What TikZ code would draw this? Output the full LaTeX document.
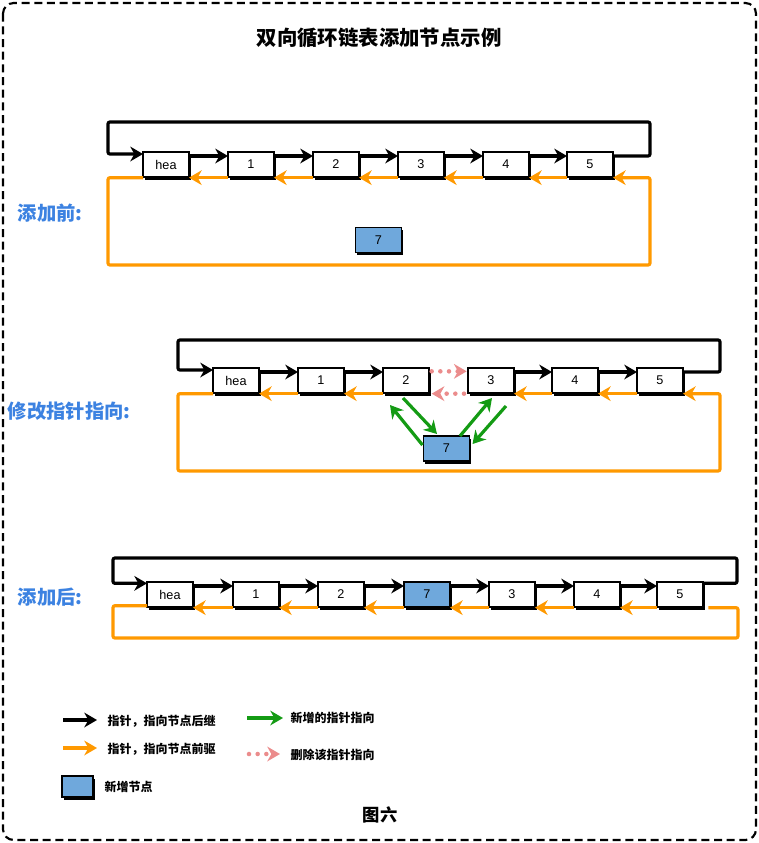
\documentclass[tikz,border=0pt]{standalone}
\usepackage{fontspec}
\setmainfont{Liberation Sans}
\newfontfamily\cjk{Noto Sans CJK SC}
\usetikzlibrary{arrows.meta,shadows,calc}
\definecolor{myorange}{RGB}{255,153,0}
\definecolor{mygreen}{RGB}{20,155,20}
\definecolor{mypink}{RGB}{235,140,140}
\definecolor{myblue}{RGB}{111,168,220}
\definecolor{lblblue}{RGB}{60,130,225}
\begin{document}
\begin{tikzpicture}[x=0.75pt,y=-0.75pt,
  lnode/.style={draw=black, line width=1.1pt, fill=white, minimum width=34.5pt,
    minimum height=18.75pt, inner sep=0pt, outer sep=0pt, font=\fontsize{9.5}{11}\selectfont,
    drop shadow={shadow xshift=1.4pt,shadow yshift=-1.9pt,fill=black,opacity=1}},
  newnode/.style={lnode, fill=myblue},
  tip/.style={-{Stealth[length=9.5pt,width=11pt,inset=3pt]}},
  blk/.style={draw=black, line width=2.4pt, tip, rounded corners=1.5pt},
  org/.style={draw=myorange, line width=2.4pt, tip, rounded corners=1.5pt},
  orgline/.style={draw=myorange, line width=2.4pt, rounded corners=1.5pt},
  grn/.style={draw=mygreen, line width=2.4pt, tip},
  del/.style={draw=mypink, line width=3.4pt, dash pattern=on 0pt off 6.5pt, line cap=round, tip},
  side/.style={anchor=west, text=lblblue, font=\cjk\bfseries\fontsize{14.5}{16}\selectfont},
  legtxt/.style={anchor=west, font=\cjk\bfseries\fontsize{9}{10}\selectfont},
]
\useasboundingbox (0,0) rectangle (759,843);
\draw[line width=1.6pt, dash pattern=on 6pt off 3.5pt, rounded corners=8pt] (3,3) rectangle (756,840);

\node[font=\cjk\bfseries\fontsize{15.3}{17}\selectfont] (title) at (379,38) {双向循环链表添加节点示例};

% ---------- Section 1 ----------
\node[side] (s1) at (13,213) {添加前:};
\node[lnode] (a0) at (166,164.5) {hea};
\node[lnode] (a1) at (251,164.5) {1};
\node[lnode] (a2) at (336,164.5) {2};
\node[lnode] (a3) at (421,164.5) {3};
\node[lnode] (a4) at (506,164.5) {4};
\node[lnode] (a5) at (590,164.5) {5};
\node[newnode] (a7) at (378.5,240) {7};
\coordinate (t1l) at (108,122);
\coordinate (t1r) at (650,122);
\coordinate (o1l) at (108,265);
\coordinate (o1r) at (650,265);
\foreach \p/\q in {a0/a1,a1/a2,a2/a3,a3/a4,a4/a5}{
  \draw[blk] ([yshift=-3pt]\p.north east) -- ([yshift=-3pt]\q.north west);
  \draw[org] ([yshift=-0.5pt]\q.south west) -- ([yshift=-0.5pt]\p.south east);
}
\draw[blk] ([yshift=-3pt]a5.north east) -| (t1r) -- (t1l) |- ([yshift=-1.5pt]a0.north west);
\draw[org] ([yshift=-0.5pt]a0.south west) -| (o1l) -- (o1r) |- ([yshift=-0.5pt]a5.south east);

% ---------- Section 2 ----------
\node[side] (s2) at (3,411) {修改指针指向:};
\node[lnode] (b0) at (236,380.5) {hea};
\node[lnode] (b1) at (321,380.5) {1};
\node[lnode] (b2) at (406,380.5) {2};
\node[lnode] (b3) at (491,380.5) {3};
\node[lnode] (b4) at (575,380.5) {4};
\node[lnode] (b5) at (660,380.5) {5};
\node[newnode] (b7) at (446.5,448.5) {7};
\coordinate (t2l) at (178,340);
\coordinate (t2r) at (720,340);
\coordinate (o2l) at (178,471);
\coordinate (o2r) at (720,471);
\foreach \p/\q in {b0/b1,b1/b2,b3/b4,b4/b5}{
  \draw[blk] ([yshift=-3pt]\p.north east) -- ([yshift=-3pt]\q.north west);
  \draw[org] ([yshift=-0.5pt]\q.south west) -- ([yshift=-0.5pt]\p.south east);
}
\draw[blk] ([yshift=-3pt]b5.north east) -| (t2r) -- (t2l) |- ([yshift=-1.5pt]b0.north west);
\draw[org] ([yshift=-0.5pt]b0.south west) -| (o2l) -- (o2r) |- ([yshift=-0.5pt]b5.south east);
\draw[del] ([xshift=2pt,yshift=-2.5pt]b2.north east) -- ([xshift=-1pt,yshift=-2.5pt]b3.north west);
\draw[del] ([xshift=-3pt,yshift=-0.5pt]b3.south west) -- ([xshift=2pt,yshift=-0.5pt]b2.south east);
\draw[grn] ($(b2.south)+(-3,5)$) -- ($(b7.north)+(-9.5,-2)$);
\draw[grn] ($(b7.north west)+(-1,9)$) -- ($(b2.south west)+(7,12)$);
\draw[grn] ($(b7.north)+(13.5,0)$) -- ($(b3.south)+(1,5)$);
\draw[grn] ($(b3.south east)+(-8,13)$) -- ($(b7.north east)+(3,8)$);

% ---------- Section 3 ----------
\node[side] (s3) at (13,597) {添加后:};
\node[lnode] (c0) at (170,594.5) {hea};
\node[lnode] (c1) at (256,594.5) {1};
\node[lnode] (c2) at (341,594.5) {2};
\node[newnode] (c7) at (427,594.5) {7};
\node[lnode] (c3) at (512,594.5) {3};
\node[lnode] (c4) at (597,594.5) {4};
\node[lnode] (c5) at (680,594.5) {5};
\coordinate (t3l) at (113,558);
\coordinate (t3r) at (737,558);
\coordinate (o3l) at (113,638);
\coordinate (o3r) at (738,638);
\foreach \p/\q in {c0/c1,c1/c2,c2/c7,c7/c3,c3/c4,c4/c5}{
  \draw[blk] ([yshift=-3pt]\p.north east) -- ([yshift=-3pt]\q.north west);
  \draw[org] ([yshift=-0.5pt]\q.south west) -- ([yshift=-0.5pt]\p.south east);
}
\draw[blk] ([yshift=-1pt]c5.north east) -| (t3r) -- (t3l) |- ([yshift=-1pt]c0.north west);
\draw[orgline] ([yshift=1pt]c0.south west) -| (o3l) -- (o3r) |- ([xshift=4pt,yshift=-0.5pt]c5.south east);

% ---------- Legend ----------
\coordinate (l1a) at (63,720);  \coordinate (l1b) at (97,720);
\coordinate (l2a) at (63,748);  \coordinate (l2b) at (97,748);
\coordinate (l3a) at (247,718); \coordinate (l3b) at (283,718);
\coordinate (l4a) at (249,754); \coordinate (l4b) at (280,754);
\draw[blk] (l1a) -- (l1b);
\draw[org] (l2a) -- (l2b);
\draw[grn] (l3a) -- (l3b);
\draw[del] (l4a) -- (l4b);
\node[legtxt] (g1) at (103,721) {指针，指向节点后继};
\node[legtxt] (g2) at (103,749) {指针，指向节点前驱};
\node[legtxt] (g3) at (286,718) {新增的指针指向};
\node[legtxt] (g4) at (286,755) {删除该指针指向};
\node[newnode, minimum width=23.25pt, minimum height=15.75pt] (g5box) at (77.5,786.5) {};
\node[legtxt] (g5) at (100,787) {新增节点};

\node[font=\cjk\bfseries\fontsize{13}{15}\selectfont] (cap) at (380,815) {图六};
\end{tikzpicture}
\end{document}
